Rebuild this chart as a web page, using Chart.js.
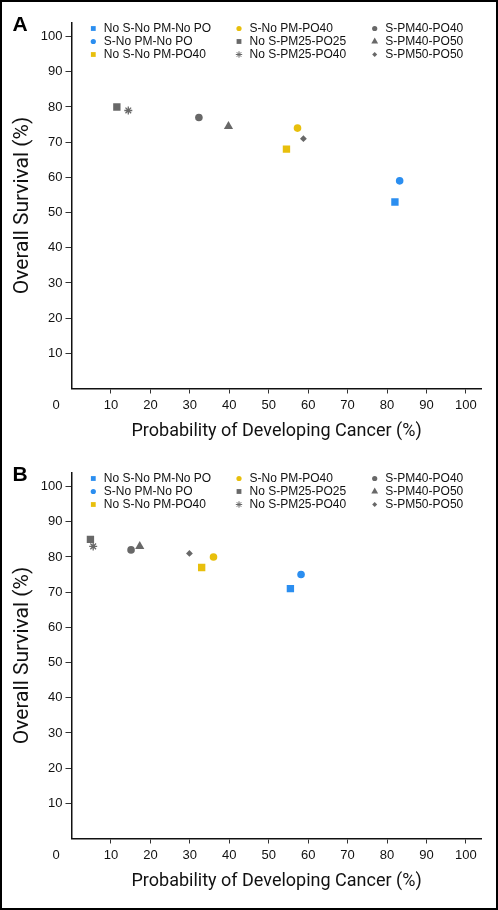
<!DOCTYPE html>
<html>
<head>
<meta charset="utf-8">
<script src="https://cdn.jsdelivr.net/npm/chart.js@4.4.1/dist/chart.umd.min.js"></script>
<style>
  body { margin: 0; background: #fff; }
  #page { position: relative; width: 498px; height: 910px; }
  .panel { position: absolute; left: 0; width: 498px; height: 450px; }
  #frame { position: absolute; left: 0; top: 0; width: 498px; height: 910px; box-sizing: border-box; border: 2px solid #000; pointer-events: none; }
</style>
</head>
<body>
<div id="page">
  <div class="panel" style="top:0"><canvas id="chartA"></canvas></div>
  <div class="panel" style="top:450px"><canvas id="chartB"></canvas></div>
  <div id="frame"></div>
</div>
<script>
// strategies, in legend order (column by column)
const seriesNames = ["No S-No PM-No PO", "S-No PM-No PO", "No S-No PM-PO40",
                     "S-No PM-PO40", "No S-PM25-PO25", "No S-PM25-PO40",
                     "S-PM40-PO40", "S-PM40-PO50", "S-PM50-PO50"];

// panel A
const cancerA   = [82, 83.2, 54.5, 57.3, 11.5, 14.4, 32.3, 39.8, 58.8];
const survivalA = [53, 59, 68, 74, 80, 79, 77, 74.5, 71];

// panel B
const cancerB   = [55.5, 58.2, 33, 36, 4.8, 5.5, 15.1, 17.3, 29.9];
const survivalB = [71, 75, 77, 80, 85, 83, 82, 83, 81];

const xTicks = [10, 20, 30, 40, 50, 60, 70, 80, 90, 100];
const yTicks = [10, 20, 30, 40, 50, 60, 70, 80, 90, 100];
const originLabel = "0";
const xTitle = "Probability of Developing Cancer (%)";
const yTitle = "Overall Survival (%)";

const BLUE = "#2b8ef0", YELLOW = "#e8bf0c", GRAY = "#686868";
const SANS = "'Liberation Sans', Arial, Helvetica, sans-serif";
const TITLE = "Roboto, 'Liberation Sans', sans-serif";

// marker look per series: r = plot radius, lr = legend radius
const markers = [
  { color: BLUE,   style: "rect",     r: 5.2, lr: 3.4 },
  { color: BLUE,   style: "circle",   r: 3.8, lr: 2.6 },
  { color: YELLOW, style: "rect",     r: 5.2, lr: 3.4 },
  { color: YELLOW, style: "circle",   r: 3.8, lr: 2.6 },
  { color: GRAY,   style: "rect",     r: 5.2, lr: 3.4 },
  { color: GRAY,   style: "star",     r: 4,   lr: 3.2 },
  { color: GRAY,   style: "circle",   r: 3.8, lr: 2.6 },
  { color: GRAY,   style: "triangle", r: 5.3, lr: 3.9 },
  { color: GRAY,   style: "rectRot",  r: 3.4, lr: 2.5 },
];

const legendX = [93.3, 239, 374.7];
const legendY = [28.5, 41.5, 54.5];

const panelExtras = {
  id: "panelExtras",
  afterDraw(chart, args, opts) {
    const ctx = chart.ctx;
    ctx.save();
    ctx.fillStyle = "#000";
    ctx.font = "bold 21px " + SANS;
    ctx.textAlign = "left";
    ctx.textBaseline = "alphabetic";
    ctx.fillText(opts.letter, 12.5, 31);

    // shared origin label under the corner
    ctx.fillStyle = "#111";
    ctx.font = "13px " + SANS;
    ctx.textAlign = "center";
    ctx.textBaseline = "middle";
    ctx.fillText(originLabel, chart.chartArea.left - 15.5, chart.chartArea.bottom + 16.8);

    // three-column legend
    chart.data.datasets.forEach((ds, i) => {
      const m = markers[i];
      const x = legendX[Math.floor(i / 3)], y = legendY[i % 3];
      const bw = m.style === "star" ? 1 : 0;
      ctx.fillStyle = m.color;
      ctx.strokeStyle = m.color;
      ctx.lineWidth = bw;
      Chart.helpers.drawPoint(ctx, { pointStyle: m.style, radius: m.lr, borderWidth: bw, rotation: 0 }, x, y);
      ctx.fillStyle = "#111";
      ctx.font = "12px " + SANS;
      ctx.textAlign = "left";
      ctx.textBaseline = "middle";
      ctx.fillText(ds.label, x + 10.5, y + 0.5);
    });
    ctx.restore();
  }
};

function makeChart(id, letter, cancer, survival) {
  const datasets = seriesNames.map((name, i) => ({
    label: name,
    data: [{ x: cancer[i], y: survival[i] }],
    pointStyle: markers[i].style,
    pointRadius: markers[i].r,
    pointHoverRadius: markers[i].r,
    pointBackgroundColor: markers[i].color,
    pointBorderColor: markers[i].color,
    pointBorderWidth: markers[i].style === "star" ? 1.3 : 0,
  }));

  return new Chart(document.getElementById(id), {
    type: "scatter",
    data: { datasets },
    options: {
      animation: false,
      responsive: true,
      maintainAspectRatio: false,
      layout: { padding: { left: 0, right: 16.3, top: 22.5, bottom: 0 } },
      plugins: {
        legend: { display: false },
        tooltip: { enabled: false },
        panelExtras: { letter },
      },
      scales: {
        x: {
          type: "linear",
          min: 0,
          max: 104,
          afterBuildTicks: s => { s.ticks = xTicks.map(v => ({ value: v })); },
          afterFit: s => { s.height = 61.5; },
          grid: { drawOnChartArea: false, drawTicks: true, tickLength: 5, color: "#333" },
          border: { display: true, color: "#111", width: 1.5 },
          ticks: { color: "#111", font: { family: SANS, size: 13 }, padding: 4, maxRotation: 0, autoSkip: false },
          title: { display: true, text: xTitle, color: "#111", font: { family: TITLE, size: 18 }, padding: { top: 0, bottom: 8 } },
        },
        y: {
          type: "linear",
          min: 0,
          max: 104,
          afterBuildTicks: s => { s.ticks = yTicks.map(v => ({ value: v })); },
          afterFit: s => { s.width = 71.5; },
          grid: { drawOnChartArea: false, drawTicks: true, tickLength: 6, color: "#333" },
          border: { display: true, color: "#111", width: 1.5 },
          ticks: { color: "#111", font: { family: SANS, size: 13 }, padding: 3, autoSkip: false },
          title: { display: true, text: yTitle, color: "#111", font: { family: TITLE, size: 21 }, padding: { top: 10, bottom: 0 } },
        },
      },
    },
    plugins: [panelExtras],
  });
}

makeChart("chartA", "A", cancerA, survivalA);
makeChart("chartB", "B", cancerB, survivalB);
</script>
</body>
</html>
